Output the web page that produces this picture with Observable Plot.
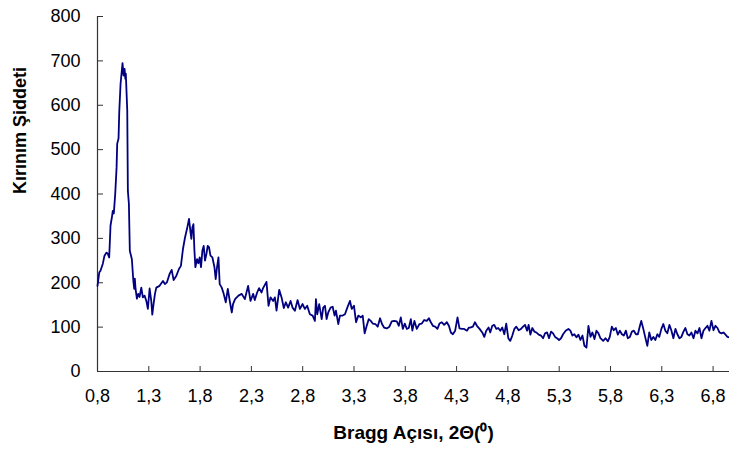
<!DOCTYPE html>
<html>
<head>
<meta charset="utf-8">
<script src="https://cdn.jsdelivr.net/npm/d3@7"></script>
<script src="https://cdn.jsdelivr.net/npm/@observablehq/plot@0.6"></script>
<style>
  html, body { margin: 0; padding: 0; background: #fff; }
</style>
</head>
<body>
<div id="chart"></div>
<script>
// 2θ (degrees)
const angle = [
0.800,0.817,0.829,0.852,0.868,0.888,0.901,0.914,0.927,0.940,0.949,0.959,0.973,0.986,0.992,1.005,1.012,1.025,1.037,1.044,
1.054,1.064,1.071,1.076,1.090,1.096,1.106,1.115,1.135,1.149,1.158,1.164,1.171,1.184,1.197,1.210,1.227,1.242,1.259,1.276,
1.291,1.308,1.324,1.334,1.347,1.360,1.373,1.405,1.438,1.457,1.477,1.503,1.523,1.542,1.569,1.594,1.613,1.633,1.653,1.672,
1.692,1.705,1.715,1.725,1.735,1.744,1.754,1.770,1.783,1.796,1.809,1.822,1.835,1.848,1.862,1.874,1.887,1.901,1.920,1.940,
1.952,1.965,1.979,1.991,2.011,2.030,2.050,2.070,2.089,2.109,2.121,2.141,2.174,2.206,2.236,2.268,2.291,2.317,2.333,2.356,
2.375,2.399,2.414,2.447,2.467,2.486,2.512,2.529,2.545,2.571,2.594,2.616,2.636,2.658,2.682,2.701,2.724,2.750,2.773,2.799,
2.821,2.844,2.870,2.897,2.919,2.929,2.942,2.961,2.985,3.000,3.017,3.033,3.049,3.072,3.092,3.111,3.124,3.147,3.163,3.190,
3.212,3.235,3.261,3.278,3.300,3.320,3.342,3.366,3.385,3.404,3.424,3.444,3.463,3.483,3.508,3.531,3.554,3.573,3.593,3.619,
3.645,3.668,3.691,3.717,3.737,3.756,3.776,3.795,3.815,3.834,3.854,3.869,3.889,3.912,3.938,3.961,3.984,4.010,4.030,4.049,
4.069,4.091,4.113,4.133,4.156,4.179,4.205,4.225,4.244,4.264,4.286,4.309,4.328,4.352,4.374,4.401,4.420,4.433,4.459,4.479,
4.498,4.524,4.550,4.570,4.589,4.612,4.628,4.648,4.667,4.687,4.706,4.726,4.745,4.765,4.784,4.804,4.823,4.843,4.863,4.882,
4.905,4.928,4.948,4.967,4.987,5.002,5.019,5.038,5.058,5.077,5.100,5.123,5.143,5.162,5.182,5.201,5.221,5.240,5.260,5.279,
5.299,5.318,5.338,5.363,5.390,5.409,5.429,5.448,5.468,5.488,5.507,5.527,5.546,5.566,5.585,5.605,5.624,5.644,5.663,5.683,
5.702,5.729,5.751,5.774,5.793,5.813,5.832,5.852,5.872,5.891,5.911,5.930,5.950,5.969,5.989,6.009,6.028,6.048,6.067,6.087,
6.100,6.120,6.139,6.159,6.178,6.198,6.218,6.237,6.257,6.276,6.296,6.315,6.335,6.354,6.374,6.393,6.413,6.433,6.452,6.472,
6.491,6.511,6.530,6.550,6.569,6.589,6.609,6.628,6.648,6.667,6.687,6.706,6.726,6.745,6.764,6.784,6.804,6.823,6.843,6.862,
6.882,6.901,6.921,6.940,6.960
];
// Kırınım şiddeti (intensity)
const intensity = [
193,223,227,243,261,268,265,257,329,347,362,356,401,460,513,525,584,649,678,695,
667,682,660,671,588,407,378,272,253,205,186,209,186,164,175,168,189,167,171,159,
141,187,159,128,153,175,189,193,204,197,201,220,229,206,216,231,238,276,302,321,
344,317,299,325,332,276,235,253,244,257,235,272,283,250,265,283,280,261,257,235,
208,235,257,197,189,175,156,186,159,133,152,163,171,175,163,193,159,175,161,178,
188,178,188,202,148,167,159,167,137,184,167,143,156,144,159,144,137,161,141,152,
141,148,129,126,114,163,129,152,118,144,148,118,133,144,146,126,137,107,126,126,
129,144,159,141,148,111,126,122,126,86,103,118,114,108,107,101,120,107,99,97,
101,113,114,113,103,122,96,108,96,98,118,92,114,96,107,108,116,114,120,111,
103,101,96,108,111,105,111,103,88,84,92,122,97,96,96,92,99,99,101,111,
103,96,88,78,92,99,88,103,105,96,98,92,99,84,108,75,69,81,96,101,
93,96,101,105,92,105,83,98,90,88,83,81,75,86,88,75,90,86,78,75,
71,75,84,92,96,92,81,84,77,83,71,81,58,54,103,78,88,73,92,86,
75,69,75,68,78,101,93,98,83,92,84,81,92,75,78,90,92,84,84,103,
114,96,77,58,88,71,78,71,84,78,96,107,92,86,105,93,75,96,84,75,
78,90,98,84,81,88,75,92,86,98,75,92,98,103,92,114,93,103,98,88,
86,88,83,78,77
];
const xTicks = [0.8, 1.3, 1.8, 2.3, 2.8, 3.3, 3.8, 4.3, 4.8, 5.3, 5.8, 6.3, 6.8];
const xTickLabels = ["0,8","1,3","1,8","2,3","2,8","3,3","3,8","4,3","4,8","5,3","5,8","6,3","6,8"];
const yTicks = [0, 100, 200, 300, 400, 500, 600, 700, 800];
const xTitle = "Bragg Açısı, 2Θ(⁰)";
const yTitle = "Kırınım Şiddeti";

const data = angle.map((a, i) => ({angle: a, intensity: intensity[i]}));
const axisColor = "#333";

const chart = Plot.plot({
  width: 729,
  height: 455,
  marginLeft: 97,
  marginRight: 0,
  marginTop: 16,
  marginBottom: 84,
  style: {fontFamily: "'Liberation Sans', Arial, sans-serif", fontSize: "18px", background: "#fff", color: "#000"},
  x: {domain: [0.8, 6.96]},
  y: {domain: [0, 800]},
  marks: [
    Plot.axisX({ticks: xTicks, tickFormat: (d, i) => xTickLabels[i], tickSize: -5, tickPadding: 23, label: null, stroke: axisColor, fontSize: 18}),
    Plot.axisY({ticks: yTicks, tickSize: -6, tickPadding: 23, label: null, stroke: axisColor, fontSize: 18}),
    Plot.ruleY([0], {stroke: axisColor, strokeWidth: 1.2}),
    Plot.ruleX([0.8], {stroke: axisColor, strokeWidth: 1.2}),
    Plot.line(data, {x: "angle", y: "intensity", stroke: "#000080", strokeWidth: 1.8}),
    Plot.text([xTitle], {frameAnchor: "bottom", dy: 67, fontWeight: "bold", fontSize: 19}),
    Plot.text([yTitle], {frameAnchor: "left", dx: -77, rotate: -90, fontWeight: "bold", fontSize: 18})
  ]
});
document.getElementById("chart").appendChild(chart);
</script>
</body>
</html>
